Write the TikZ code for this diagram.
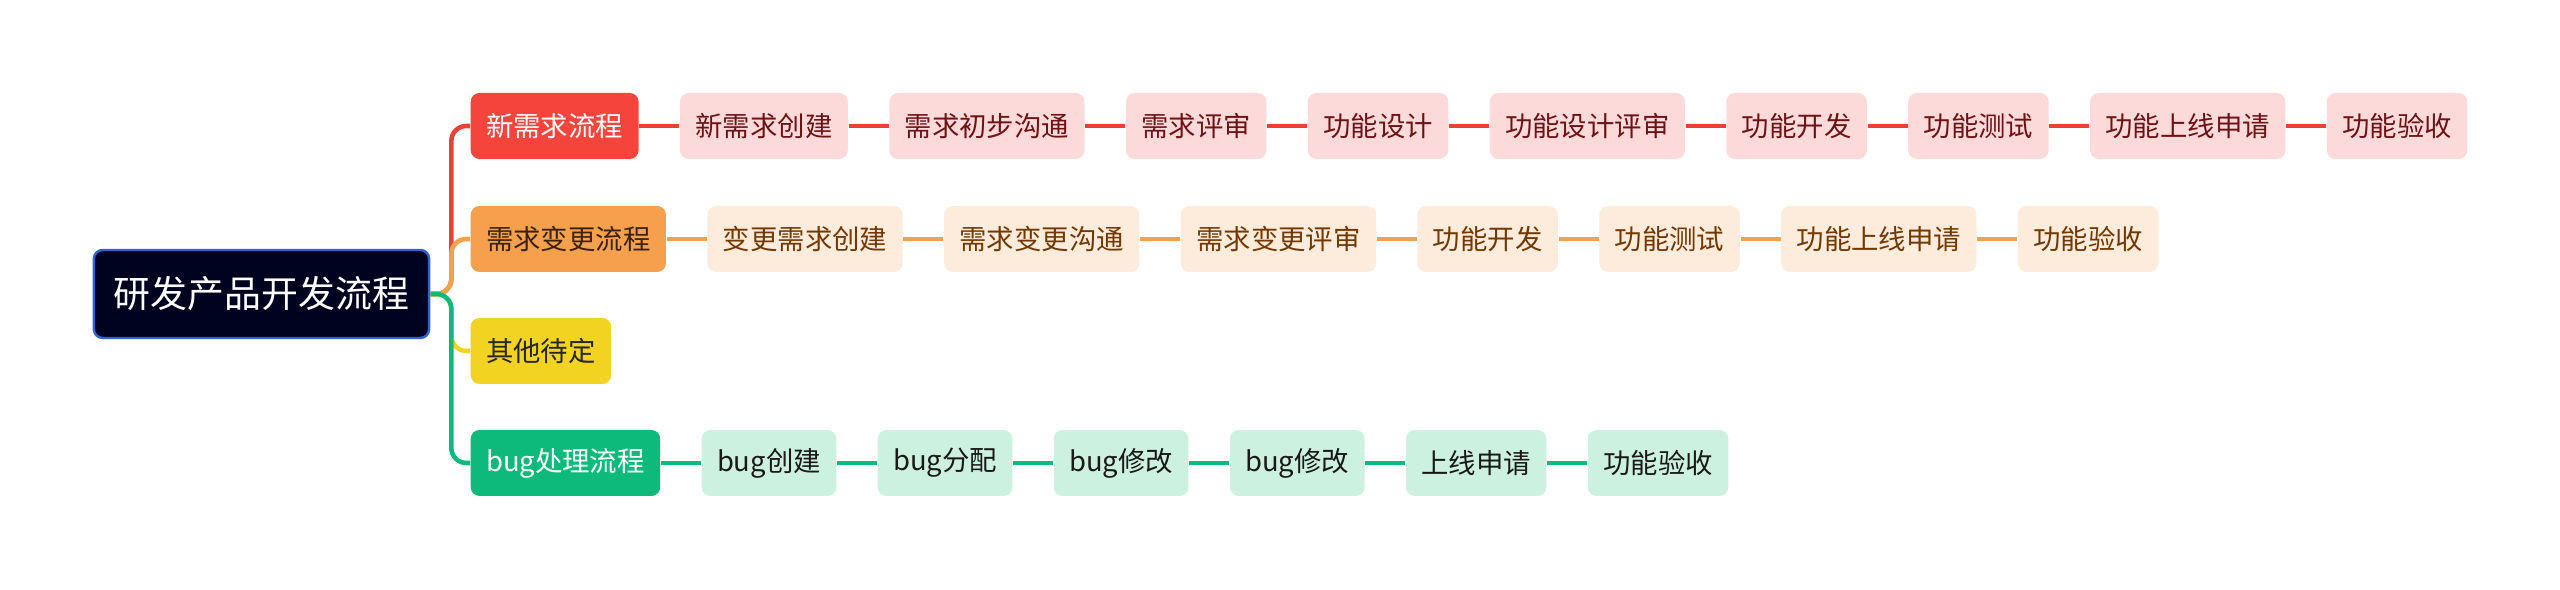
\documentclass[tikz,border=0pt]{standalone}
\usepackage{fontspec}
\setmainfont{Noto Sans CJK SC}
\usetikzlibrary{positioning}

\definecolor{rootfill}{HTML}{00031F}
\definecolor{rootedge}{HTML}{2E63D6}
\definecolor{redmain}{HTML}{F5443B}
\definecolor{redlight}{HTML}{FDDADA}
\definecolor{redtext}{HTML}{6E1215}
\definecolor{orgmain}{HTML}{F4A04C}
\definecolor{orglight}{HTML}{FDEBDB}
\definecolor{orgtext}{HTML}{733800}
\definecolor{orgdark}{HTML}{3A2208}
\definecolor{ylwmain}{HTML}{F2D322}
\definecolor{grnmain}{HTML}{0DBA7B}
\definecolor{grnlight}{HTML}{CDF1E1}

\tikzset{
  box/.style={rounded corners=2.5pt, minimum height=0.66cm, inner xsep=0.154cm,
    inner ysep=0pt, font=\fontsize{7.8pt}{9pt}\selectfont},
  rootbox/.style={box, minimum height=0.88cm, inner xsep=0.2cm, fill=rootfill,
    draw=rootedge, line width=0.7pt, text=white, font=\fontsize{10.5pt}{12pt}\selectfont},
  redtop/.style={box, fill=redmain, text=white},
  redsub/.style={box, fill=redlight, text=redtext},
  orgtop/.style={box, fill=orgmain, text=orgdark},
  orgsub/.style={box, fill=orglight, text=orgtext},
  ylwtop/.style={box, fill=ylwmain, text=black!85},
  grntop/.style={box, fill=grnmain, text=white},
  grnsub/.style={box, fill=grnlight, text=black!90},
  redline/.style={draw=redmain!95!black, line width=1.3pt},
  orgline/.style={draw=orgmain, line width=1.3pt},
  ylwline/.style={draw=ylwmain, line width=1.3pt},
  grnline/.style={draw=grnmain, line width=1.3pt},
  branch/.style={rounded corners=0.15cm}
}

\begin{document}
\begin{tikzpicture}[node distance=0.4cm]
\useasboundingbox (0,0) rectangle (25.6,5.9);

\node [rootbox] (root) at (2.615,2.96) {研发产品开发流程};

% first level
\node [redtop, anchor=west] (new) at (4.70,4.64) {新需求流程};
\node [orgtop, anchor=west] (chg) at (4.70,3.51) {需求变更流程};
\node [ylwtop, anchor=west] (oth) at (4.70,2.39) {其他待定};
\node [grntop, anchor=west] (bug) at (4.70,1.27) {bug处理流程};

% new requirement row
\node [redsub, right=of new] (new1) {新需求创建};
\node [redsub, right=of new1] (new2) {需求初步沟通};
\node [redsub, right=of new2] (new3) {需求评审};
\node [redsub, right=of new3] (new4) {功能设计};
\node [redsub, right=of new4] (new5) {功能设计评审};
\node [redsub, right=of new5] (new6) {功能开发};
\node [redsub, right=of new6] (new7) {功能测试};
\node [redsub, right=of new7] (new8) {功能上线申请};
\node [redsub, right=of new8] (new9) {功能验收};

% change row
\node [orgsub, right=of chg] (chg1) {变更需求创建};
\node [orgsub, right=of chg1] (chg2) {需求变更沟通};
\node [orgsub, right=of chg2] (chg3) {需求变更评审};
\node [orgsub, right=of chg3] (chg4) {功能开发};
\node [orgsub, right=of chg4] (chg5) {功能测试};
\node [orgsub, right=of chg5] (chg6) {功能上线申请};
\node [orgsub, right=of chg6] (chg7) {功能验收};

% bug row
\node [grnsub, right=of bug] (bug1) {bug创建};
\node [grnsub, right=of bug1] (bug2) {bug分配};
\node [grnsub, right=of bug2] (bug3) {bug修改};
\node [grnsub, right=of bug3] (bug4) {bug修改};
\node [grnsub, right=of bug4] (bug5) {上线申请};
\node [grnsub, right=of bug5] (bug6) {功能验收};

% branches
\draw [redline, branch] (root.east) -- ++(0.21,0) |- (new.west);
\draw [orgline, branch] (root.east) -- ++(0.21,0) |- (chg.west);
\draw [ylwline, branch] (root.east) -- ++(0.21,0) |- (oth.west);
\draw [grnline, branch] (root.east) -- ++(0.21,0) |- (bug.west);

% chains
\draw [redline] (new) -- (new1) -- (new2) -- (new3) -- (new4) -- (new5)
  -- (new6) -- (new7) -- (new8) -- (new9);
\draw [orgline] (chg) -- (chg1) -- (chg2) -- (chg3) -- (chg4) -- (chg5)
  -- (chg6) -- (chg7);
\draw [grnline] (bug) -- (bug1) -- (bug2) -- (bug3) -- (bug4) -- (bug5)
  -- (bug6);

\end{tikzpicture}
\end{document}
